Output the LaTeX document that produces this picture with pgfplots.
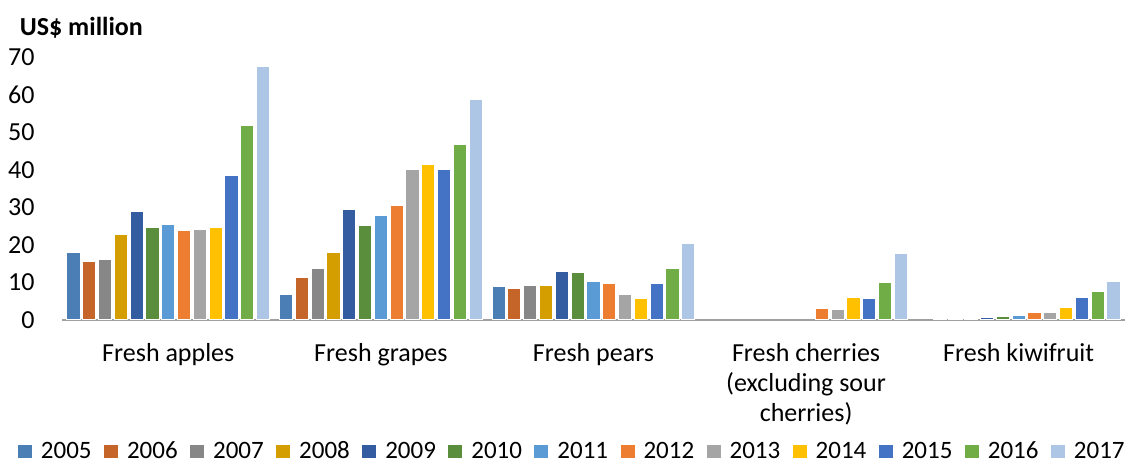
\documentclass[border=0pt]{standalone}
\usepackage{fontspec}
\setmainfont{Carlito}
\usepackage{pgfplots}
\pgfplotsset{compat=1.18}
\definecolor{c05}{HTML}{4A7EB5}
\definecolor{c06}{HTML}{C5652A}
\definecolor{c07}{HTML}{878787}
\definecolor{c08}{HTML}{D49E00}
\definecolor{c09}{HTML}{345CA0}
\definecolor{c10}{HTML}{5B8E3C}
\definecolor{c11}{HTML}{5B9BD5}
\definecolor{c12}{HTML}{ED7D31}
\definecolor{c13}{HTML}{A5A5A5}
\definecolor{c14}{HTML}{FFC000}
\definecolor{c15}{HTML}{4472C4}
\definecolor{c16}{HTML}{70AD47}
\definecolor{c17}{HTML}{ADC6E6}
\definecolor{axgray}{HTML}{A0A0A0}
\pgfplotsset{
  mybar/.style 2 args={ybar, fill=#1, draw=white, line width=0.5pt,
    bar width=0.062, bar shift=#2,
    legend image code/.code={\fill[#1] (0pt,-3pt) rectangle (6.5pt,3pt);}}
}
\begin{document}
\begin{tikzpicture}
\path[use as bounding box] (0,0) rectangle (566pt,232.5pt);
\begin{axis}[
  at={(31pt,72.5pt)}, anchor=south west,
  scale only axis, width=531.5pt, height=131.5pt,
  xmin=-0.5, xmax=4.5, ymin=0, ymax=70,
  axis x line=bottom, axis y line=left,
  x axis line style={draw=axgray, line width=0.9pt, -},
  y axis line style={draw=none},
  major tick length=0pt,
  ytick={0,10,...,70},
  xtick={0,1,2,3,4},
  xticklabels={Fresh apples, Fresh grapes, Fresh pears, {Fresh cherries\\(excluding sour\\cherries)}, Fresh kiwifruit},
  xticklabel style={align=center, anchor=north, font=\fontsize{13}{15}\selectfont, yshift=-8pt},
  yticklabel style={font=\fontsize{13}{15}\selectfont, anchor=east, inner sep=0pt, xshift=-13.5pt},
  /pgf/number format/assume math mode=true,
  legend columns=13,
  legend style={draw=none, at={(0.481,-0.50)}, anchor=center,
    font=\fontsize{12.5}{14}\selectfont, inner sep=0pt,
    /tikz/every odd column/.append style={column sep=2.5pt},
    /tikz/every even column/.append style={column sep=4.2pt}},
  clip=false,
]
\addplot[mybar={c05}{-0.446}] coordinates {(0,18.0) (1,6.9) (2,9.0)};
\addplot[mybar={c06}{-0.372}] coordinates {(0,15.5) (1,11.4) (2,8.5) (4,0.05)};
\addplot[mybar={c07}{-0.297}] coordinates {(0,16.2) (1,13.8) (2,9.2) (4,0.2)};
\addplot[mybar={c08}{-0.223}] coordinates {(0,22.7) (1,18.0) (2,9.1) (4,0.4)};
\addplot[mybar={c09}{-0.149}] coordinates {(0,28.9) (1,29.5) (2,13.0) (4,0.7)};
\addplot[mybar={c10}{-0.074}] coordinates {(0,24.6) (1,25.1) (2,12.7) (4,1.0)};
\addplot[mybar={c11}{0}] coordinates {(0,25.3) (1,27.9) (2,10.2) (4,1.3)};
\addplot[mybar={c12}{0.074}] coordinates {(0,23.7) (1,30.6) (2,9.7) (3,3.1) (4,1.9)};
\addplot[mybar={c13}{0.149}] coordinates {(0,24.1) (1,40.0) (2,6.7) (3,2.9) (4,1.9)};
\addplot[mybar={c14}{0.223}] coordinates {(0,24.7) (1,41.5) (2,5.7) (3,5.9) (4,3.4)};
\addplot[mybar={c15}{0.297}] coordinates {(0,38.4) (1,40.0) (2,9.7) (3,5.8) (4,5.9)};
\addplot[mybar={c16}{0.372}] coordinates {(0,51.8) (1,46.6) (2,13.7) (3,9.9) (4,7.6)};
\addplot[mybar={c17}{0.446}] coordinates {(0,67.5) (1,58.6) (2,20.3) (3,17.6) (4,10.3)};
\legend{2005,2006,2007,2008,2009,2010,2011,2012,2013,2014,2015,2016,2017}
\node[anchor=west, font=\bfseries\fontsize{13}{15}\selectfont, inner sep=0pt] at (axis description cs:-0.04,1.11) {US\$ million};
\end{axis}
\end{tikzpicture}
\end{document}
